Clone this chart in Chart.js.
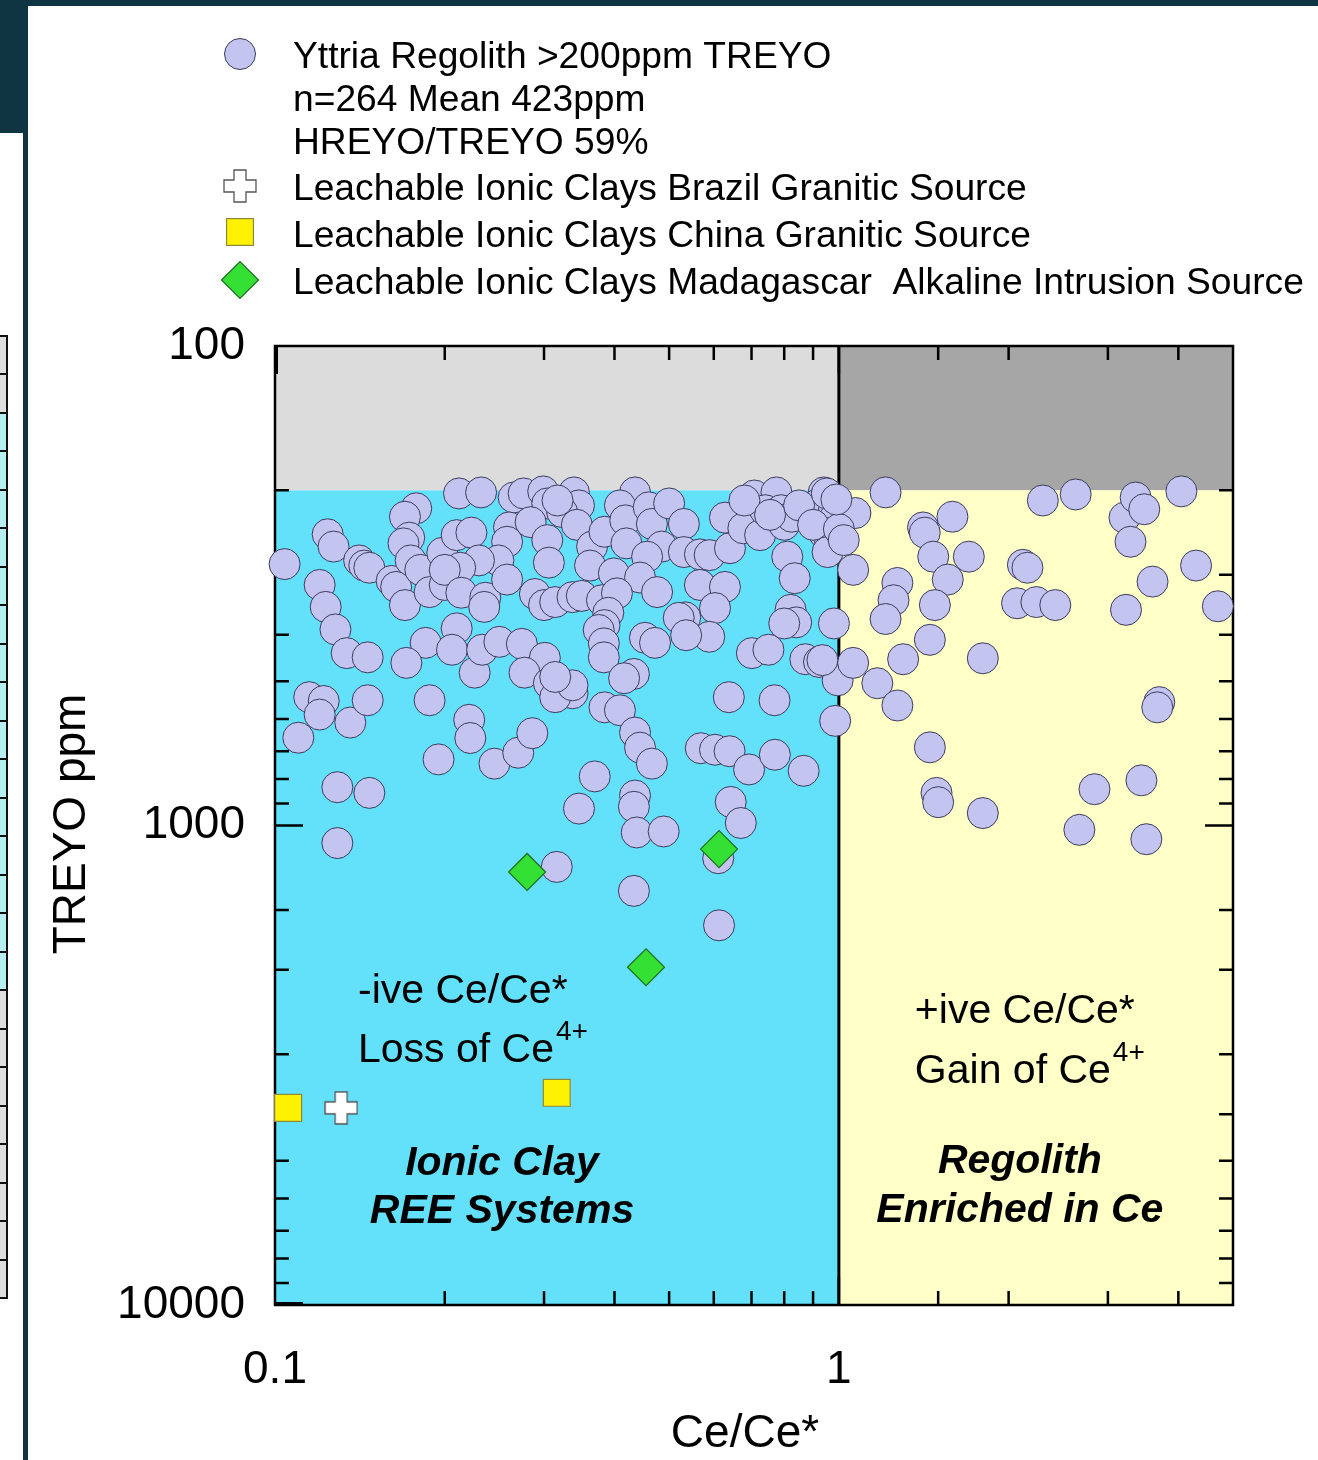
<!DOCTYPE html>
<html>
<head>
<meta charset="utf-8">
<title>TREYO vs Ce/Ce*</title>
<script src="https://cdn.jsdelivr.net/npm/chart.js@4.4.1/dist/chart.umd.min.js"></script>
<style>
  html, body { margin: 0; padding: 0; background: #ffffff; width: 1318px; height: 1460px; overflow: hidden; }
  #bar-top { position: absolute; left: 0; top: 0; width: 1318px; height: 6px; background: #0f3442; }
  #bar-corner { position: absolute; left: 0; top: 0; width: 28px; height: 133px; background: #0f3442; }
  #bar-rule { position: absolute; left: 23px; top: 0; width: 5px; height: 1460px; background: #0f3442; }
  #side-table { position: absolute; left: -30px; top: 335px; width: 34px; height: 960px;
                border: 2px solid #111; display: flex; flex-direction: column; }
  #side-table div { flex: 1; border-bottom: 2px solid #111; }
  #side-table div:last-child { border-bottom: none; }
  #plot { position: absolute; left: 0; top: 0; }
</style>
</head>
<body>
<div id="bar-top"></div>
<div id="bar-corner"></div>
<div id="bar-rule"></div>
<div id="side-table"></div>
<canvas id="plot" width="1318" height="1460"></canvas>
<script>
const FONT = "'Liberation Sans', Arial, Helvetica, sans-serif";

// Yttria regolith samples: Ce/Ce* and TREYO (ppm)
const yttriaCe = [
  0.104, 0.124, 0.127, 0.12, 0.123, 0.128, 0.134, 0.146, 0.115, 0.122,
  0.12, 0.136, 0.11, 0.146, 0.129, 0.147, 0.129, 0.141, 0.144, 0.147,
  0.161, 0.164, 0.17, 0.178, 0.17, 0.173, 0.169, 0.174, 0.181, 0.188,
  0.2, 0.198, 0.21, 0.223, 0.212, 0.232, 0.265, 0.276, 0.299, 0.304,
  0.26, 0.284, 0.258, 0.304, 0.249, 0.23, 0.213, 0.2, 0.214, 0.236,
  0.235, 0.258, 0.289, 0.3, 0.306, 0.185, 0.21, 0.206, 0.226, 0.233,
  0.25, 0.274, 0.301, 0.277, 0.306, 0.188, 0.171, 0.221, 0.222, 0.195,
  0.245, 0.27, 0.286, 0.316, 0.337, 0.314, 0.339, 0.435, 0.346, 0.323,
  0.317, 0.343, 0.365, 0.384, 0.409, 0.418, 0.46, 0.466, 0.5, 0.531,
  0.42, 0.485, 0.457, 0.531, 0.567, 0.59, 0.641, 0.628, 0.677, 0.708,
  0.775, 0.725, 0.8, 0.74, 0.79, 0.825, 0.94, 0.922, 0.98, 0.98,
  0.94, 0.965, 0.955, 0.81, 0.835, 0.362, 0.399, 0.444, 0.314, 0.337,
  0.35, 0.38, 0.404, 0.39, 0.384, 0.375, 0.383, 0.383, 0.453, 0.472,
  0.476, 0.534, 0.567, 0.628, 0.603, 0.589, 0.52, 0.821, 0.84, 0.8,
  0.98, 0.701, 0.75, 0.872, 0.922, 0.995, 0.433, 0.416, 0.384, 0.409,
  0.435, 0.444, 0.466, 0.369, 0.346, 0.435, 0.433, 0.438, 0.489, 0.433,
  0.613, 0.611, 0.643, 0.67, 0.569, 0.603, 0.64, 0.693, 0.77, 0.866,
  0.638, 0.769, 0.985, 0.337, 0.314, 0.68, 0.755, 0.85, 0.9, 0.952,
  1.21, 1.07, 1.41, 1.42, 1.59, 1.47, 1.7, 2.12, 2.16, 1.27,
  1.25, 1.21, 1.56, 1.48, 1.06, 1.45, 1.3, 1.8, 2.07, 2.24,
  2.42, 3.23, 3.6, 4.3, 4.7, 2.3, 2.63, 3.21, 3.36, 3.48,
  3.29, 4.05, 0.935, 1.06, 1.17, 1.27, 3.7, 3.67, 1.45, 1.49,
  1.5, 1.8, 2.84, 3.44, 2.67, 3.51, 1.0, 1.02, 0.99, 0.536
];
const yttriaTreyo = [
  285, 247, 262, 315, 350, 390, 437, 446, 540, 550,
  587, 610, 656, 548, 832, 855, 1088, 280, 287, 290,
  309, 318, 347, 218, 227, 251, 258, 280, 293, 326,
  315, 270, 248, 245, 203, 202, 207, 203, 201, 213,
  239, 233, 256, 254, 280, 280, 290, 293, 327, 335,
  350, 307, 329, 347, 283, 416, 388, 430, 480, 430,
  414, 418, 447, 480, 505, 548, 458, 602, 657, 728,
  743, 705, 642, 1220, 530, 540, 202, 202, 215, 222,
  210, 236, 262, 244, 215, 231, 217, 235, 213, 235,
  258, 262, 275, 269, 272, 273, 264, 228, 240, 205,
  202, 248, 236, 220, 220, 227, 202, 213, 220, 230,
  245, 256, 269, 275, 305, 287, 298, 304, 342, 334,
  332, 339, 328, 360, 382, 391, 417, 446, 406, 416,
  326, 368, 315, 318, 352, 404, 369, 355, 377, 379,
  379, 437, 430, 450, 456, 498, 483, 493, 567, 575,
  640, 688, 743, 790, 922, 866, 914, 1034, 1029, 1369,
  1615, 1170, 893, 988, 690, 695, 700, 764, 712, 769,
  540, 548, 605, 510, 490, 210, 225, 215, 236, 203,
  202, 223, 239, 245, 227, 275, 275, 286, 290, 312,
  339, 371, 307, 347, 293, 410, 450, 448, 344, 342,
  347, 355, 310, 287, 349, 210, 204, 228, 207, 219,
  256, 201, 452, 458, 505, 562, 553, 567, 687, 855,
  894, 942, 840, 805, 1021, 1068, 241, 254, 209, 401
];

// Leachable ionic clay reference samples
const brazilCe = [0.131];
const brazilTreyo = [3880];
const chinaCe = [0.1055, 0.316];
const chinaTreyo = [3880, 3610];
const madagascarCe = [0.28, 0.613, 0.455];
const madagascarTreyo = [1250, 1120, 1975];

// Labelled tick values
const xTickLabels = ['0.1', '1'];
const yTickLabels = ['100', '1000', '10000'];

// Legend entries
const legendYttria = ['Yttria Regolith >200ppm TREYO', 'n=264 Mean 423ppm', 'HREYO/TREYO 59%'];
const legendBrazil = ['Leachable Ionic Clays Brazil Granitic Source'];
const legendChina = ['Leachable Ionic Clays China Granitic Source'];
const legendMadagascar = ['Leachable Ionic Clays Madagascar  Alkaline Intrusion Source'];

// Field thresholds
const ceBoundary = 1;
const treyoBoundary = 200;

// left-hand page table stub
(function () {
  const t = document.getElementById('side-table');
  for (let i = 0; i < 25; i++) {
    const d = document.createElement('div');
    d.style.background = (i < 2 || i > 16) ? '#dedede' : '#b6eff0';
    t.appendChild(d);
  }
})();

function zip(xs, ys) { return xs.map((x, i) => ({ x: x, y: ys[i] })); }

function plusMarker(size, arm, fill, stroke) {
  const c = document.createElement('canvas');
  c.width = c.height = size + 2;
  const g = c.getContext('2d');
  const m = (size + 2) / 2, h = size / 2, a = arm / 2;
  g.beginPath();
  g.moveTo(m - a, m - h); g.lineTo(m + a, m - h); g.lineTo(m + a, m - a);
  g.lineTo(m + h, m - a); g.lineTo(m + h, m + a); g.lineTo(m + a, m + a);
  g.lineTo(m + a, m + h); g.lineTo(m - a, m + h); g.lineTo(m - a, m + a);
  g.lineTo(m - h, m + a); g.lineTo(m - h, m - a); g.lineTo(m - a, m - a);
  g.closePath();
  g.fillStyle = fill; g.fill();
  g.lineWidth = 1.3; g.strokeStyle = stroke; g.stroke();
  return c;
}
const plusImg = plusMarker(32, 12, '#ffffff', '#555555');

const STYLE = {
  yttria: { pointStyle: 'circle', radius: 15.5, backgroundColor: '#c4c4f0', borderColor: '#3c3c5c', borderWidth: 1 },
  brazil: { pointStyle: plusImg, radius: 16, backgroundColor: '#ffffff', borderColor: '#555555', borderWidth: 1 },
  china: { pointStyle: 'rect', radius: 19, backgroundColor: '#fff200', borderColor: '#8c8a3c', borderWidth: 1.2 },
  madagascar: { pointStyle: 'rectRot', radius: 18.5, backgroundColor: '#33e033', borderColor: '#1e6e1e', borderWidth: 1.2 }
};

// higher order values are painted first, so the regolith circles sit underneath
function ds(label, xs, ys, s, order) {
  return {
    label: label, data: zip(xs, ys), clip: false, order: order,
    pointStyle: s.pointStyle, pointRadius: s.radius,
    pointBackgroundColor: s.backgroundColor, pointBorderColor: s.borderColor,
    pointBorderWidth: s.borderWidth, showLine: false
  };
}

function isPow10(v) {
  const l = Math.log10(v);
  return Math.abs(l - Math.round(l)) < 1e-9;
}
function tickText(v, list) {
  const s = String(Number(v.toPrecision(6)));
  return list.includes(s) ? s : '';
}

// shaded fields, boundary, frame and inward ticks
const fieldPlugin = {
  id: 'fields',
  beforeDatasetsDraw(chart) {
    const { ctx, chartArea: a, scales: { x, y } } = chart;
    const xb = x.getPixelForValue(ceBoundary);
    const yb = y.getPixelForValue(treyoBoundary);
    ctx.save();
    ctx.fillStyle = '#dcdcdc'; ctx.fillRect(a.left, a.top, xb - a.left, yb - a.top);
    ctx.fillStyle = '#a6a6a6'; ctx.fillRect(xb, a.top, a.right - xb, yb - a.top);
    ctx.fillStyle = '#63e0fa'; ctx.fillRect(a.left, yb, xb - a.left, a.bottom - yb);
    ctx.fillStyle = '#ffffc8'; ctx.fillRect(xb, yb, a.right - xb, a.bottom - yb);

    ctx.strokeStyle = '#000'; ctx.lineCap = 'butt';
    ctx.lineWidth = 2.5;
    // inward ticks on all four sides
    x.ticks.forEach(t => {
      const v = t.value;
      if (v <= x.min || v >= x.max) return;
      const p = x.getPixelForValue(v);
      const len = isPow10(v) ? 28 : 14;
      ctx.beginPath();
      ctx.moveTo(p, a.bottom); ctx.lineTo(p, a.bottom - len);
      ctx.moveTo(p, a.top); ctx.lineTo(p, a.top + len);
      ctx.stroke();
    });
    y.ticks.forEach(t => {
      const v = t.value;
      if (v <= y.min || v >= y.max) return;
      const p = y.getPixelForValue(v);
      const len = isPow10(v) ? 28 : 14;
      ctx.beginPath();
      ctx.moveTo(a.left, p); ctx.lineTo(a.left + len, p);
      ctx.moveTo(a.right, p); ctx.lineTo(a.right - len, p);
      ctx.stroke();
    });
    // corner major ticks
    ctx.lineWidth = 4;
    ctx.beginPath();
    ctx.moveTo(a.left + 1, a.top); ctx.lineTo(a.left + 1, a.top + 28);
    ctx.moveTo(a.left, a.bottom - 1); ctx.lineTo(a.left + 28, a.bottom - 1);
    ctx.stroke();

    // Ce/Ce* = 1 boundary
    ctx.lineWidth = 3;
    ctx.beginPath(); ctx.moveTo(xb, a.top); ctx.lineTo(xb, a.bottom); ctx.stroke();

    // frame
    ctx.lineWidth = 2.5;
    ctx.strokeRect(a.left, a.top, a.right - a.left, a.bottom - a.top);
    ctx.restore();
  }
};

// field captions, axis titles and legend
const textPlugin = {
  id: 'texts',
  afterDatasetsDraw(chart) {
    const { ctx, chartArea: a, scales: { x } } = chart;
    const xb = x.getPixelForValue(ceBoundary);
    ctx.save();
    ctx.fillStyle = '#000';
    ctx.textBaseline = 'alphabetic';

    ctx.textAlign = 'left';
    ctx.font = '41px ' + FONT;
    ctx.fillText('-ive Ce/Ce*', a.left + 83, 1003);
    ctx.fillText('Loss of Ce', a.left + 83, 1062);
    let w = ctx.measureText('Loss of Ce').width;
    ctx.fillText('+ive Ce/Ce*', xb + 76, 1023);
    ctx.fillText('Gain of Ce', xb + 76, 1083);
    let w2 = ctx.measureText('Gain of Ce').width;
    ctx.font = '28px ' + FONT;
    ctx.fillText('4+', a.left + 83 + w + 2, 1040);
    ctx.fillText('4+', xb + 76 + w2 + 2, 1061);

    ctx.textAlign = 'center';
    ctx.font = 'italic bold 41px ' + FONT;
    ctx.fillText('Ionic Clay', a.left + 227, 1175);
    ctx.fillText('REE Systems', a.left + 227, 1223);
    ctx.fillText('Regolith', xb + 181, 1173);
    ctx.fillText('Enriched in Ce', xb + 181, 1222);

    // axis titles
    ctx.font = '46px ' + FONT;
    ctx.fillText('Ce/Ce*', 745, 1447);
    ctx.save();
    ctx.translate(85, 824);
    ctx.rotate(-Math.PI / 2);
    ctx.fillText('TREYO ppm', 0, 0);
    ctx.restore();

    // legend
    const rows = [
      { s: STYLE.yttria, my: 54, lines: legendYttria, base: 68 },
      { s: STYLE.brazil, my: 186, lines: legendBrazil, base: 200 },
      { s: STYLE.china, my: 232, lines: legendChina, base: 247 },
      { s: STYLE.madagascar, my: 280, lines: legendMadagascar, base: 294 }
    ];
    ctx.font = '37.2px ' + FONT;
    ctx.textAlign = 'left';
    rows.forEach(r => {
      ctx.save();
      ctx.fillStyle = r.s.backgroundColor;
      ctx.strokeStyle = r.s.borderColor;
      ctx.lineWidth = r.s.borderWidth;
      Chart.helpers.drawPoint(ctx, {
        pointStyle: r.s.pointStyle, radius: r.s.radius, rotation: 0, borderWidth: r.s.borderWidth
      }, 240, r.my);
      ctx.restore();
      r.lines.forEach((t, i) => ctx.fillText(t, 293, r.base + i * 43));
    });
    ctx.restore();
  }
};

const axisFont = { family: FONT, size: 46 };

new Chart(document.getElementById('plot'), {
  type: 'scatter',
  data: {
    datasets: [
      ds(legendYttria.join(' '), yttriaCe, yttriaTreyo, STYLE.yttria, 4),
      ds(legendBrazil[0], brazilCe, brazilTreyo, STYLE.brazil, 3),
      ds(legendChina[0], chinaCe, chinaTreyo, STYLE.china, 2),
      ds(legendMadagascar[0], madagascarCe, madagascarTreyo, STYLE.madagascar, 1)
    ]
  },
  options: {
    responsive: false,
    animation: false,
    events: [],
    layout: { padding: { left: 0, right: 85, top: 346, bottom: 0 } },
    plugins: { legend: { display: false }, tooltip: { enabled: false } },
    scales: {
      x: {
        type: 'logarithmic', min: 0.1, max: 5, position: 'bottom',
        grid: { display: false }, border: { display: false },
        ticks: {
          autoSkip: false, maxRotation: 0, padding: 30, color: '#000', font: axisFont,
          callback: (v) => tickText(v, xTickLabels)
        },
        afterFit: (s) => { s.height = 155; }
      },
      y: {
        type: 'logarithmic', min: 100, max: 10000, reverse: true,
        grid: { display: false }, border: { display: false },
        ticks: {
          autoSkip: false, padding: 22, color: '#000', font: axisFont,
          callback: (v) => tickText(v, yTickLabels)
        },
        afterFit: (s) => { s.width = 275; }
      }
    }
  },
  plugins: [fieldPlugin, textPlugin]
});
</script>
</body>
</html>
